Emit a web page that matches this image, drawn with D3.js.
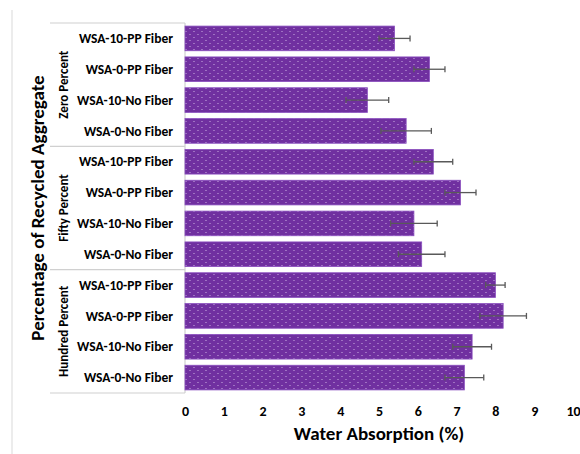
<!DOCTYPE html>
<html>
<head>
<meta charset="utf-8">
<script src="https://cdnjs.cloudflare.com/ajax/libs/d3/7.8.5/d3.min.js"></script>
<style>
  body { margin: 0; background: #fff; font-family: Calibri, "Liberation Sans", "Open Sans", sans-serif; }
</style>
</head>
<body>
<svg id="chart" width="580" height="454"></svg>
<script>
// data, top to bottom
var groups = ["Zero Percent", "Fifty Percent", "Hundred Percent"];
var samples = ["WSA-10-PP Fiber", "WSA-0-PP Fiber", "WSA-10-No Fiber", "WSA-0-No Fiber"];
var values = [5.4, 6.3, 4.7, 5.7, 6.4, 7.1, 5.9, 6.1, 8.0, 8.2, 7.4, 7.2];
var errors = [0.4, 0.4, 0.55, 0.65, 0.5, 0.4, 0.6, 0.6, 0.25, 0.6, 0.5, 0.5];
var xTicks = [0, 1, 2, 3, 4, 5, 6, 7, 8, 9, 10];

var svg = d3.select("#chart");
var plotLeft = 185, plotRight = 573, plotTop = 23, plotBottom = 393;

var rows = [];
groups.forEach(function (g, gi) {
  samples.forEach(function (s, si) {
    var i = gi * samples.length + si;
    rows.push({ key: g + "|" + s, group: g, sample: s, v: values[i], e: errors[i] });
  });
});

var x = d3.scaleLinear().domain([0, 10]).range([plotLeft, plotRight]);
var y = d3.scaleBand().domain(rows.map(function (r) { return r.key; }))
  .range([plotTop, plotBottom]).paddingInner(0.2).paddingOuter(0.1);

// dotted pattern fill
var defs = svg.append("defs");
var pat = defs.append("pattern").attr("id", "dots").attr("patternUnits", "userSpaceOnUse")
  .attr("width", 8).attr("height", 6);
pat.append("rect").attr("width", 8).attr("height", 6).attr("fill", "#7030A0");
pat.append("circle").attr("cx", 2).attr("cy", 1.5).attr("r", 0.6).attr("fill", "#d8c0ea");
pat.append("circle").attr("cx", 6).attr("cy", 4.5).attr("r", 0.6).attr("fill", "#d8c0ea");

// frame line at far left
svg.append("line").attr("x1", 12).attr("x2", 12).attr("y1", 10).attr("y2", 454)
  .attr("stroke", "#d9d9d9");

// category table lines
var groupH = (plotBottom - plotTop) / groups.length;
groups.forEach(function (g, gi) {
  var y0 = plotTop + gi * groupH;
  svg.append("line").attr("x1", 50).attr("x2", plotLeft).attr("y1", y0).attr("y2", y0)
    .attr("stroke", "#d0d0d0").attr("stroke-width", 1.2);
  svg.append("text")
    .attr("transform", "translate(63," + (y0 + groupH / 2) + ") rotate(-90)")
    .attr("text-anchor", "middle").attr("dy", "0.35em")
    .attr("font-size", 13).attr("font-weight", "bold").text(g);
});
svg.append("line").attr("x1", 50).attr("x2", plotLeft).attr("y1", plotBottom).attr("y2", plotBottom)
  .attr("stroke", "#d0d0d0").attr("stroke-width", 1.2);
svg.append("line").attr("x1", plotLeft).attr("x2", plotLeft).attr("y1", plotTop).attr("y2", plotBottom)
  .attr("stroke", "#d0d0d0").attr("stroke-width", 1.2);

// sample labels
svg.selectAll(".lab").data(rows).enter().append("text")
  .attr("x", plotLeft - 12).attr("y", function (d) { return y(d.key) + y.bandwidth() / 2; })
  .attr("dy", "0.35em").attr("text-anchor", "end")
  .attr("font-size", 13.5).attr("font-weight", "bold").text(function (d) { return d.sample; });

// bars
svg.selectAll(".bar").data(rows).enter().append("rect")
  .attr("x", x(0)).attr("y", function (d) { return y(d.key); })
  .attr("width", function (d) { return x(d.v) - x(0); })
  .attr("height", y.bandwidth())
  .attr("fill", "url(#dots)").attr("stroke", "#8a4fbf").attr("stroke-width", 0.8);

// error bars
var eb = svg.selectAll(".eb").data(rows).enter().append("g")
  .attr("stroke", "#595959").attr("stroke-width", 1.3);
eb.append("line")
  .attr("x1", function (d) { return x(d.v - d.e); }).attr("x2", function (d) { return x(d.v + d.e); })
  .attr("y1", function (d) { return y(d.key) + y.bandwidth() / 2; })
  .attr("y2", function (d) { return y(d.key) + y.bandwidth() / 2; });
[-1, 1].forEach(function (s) {
  eb.append("line")
    .attr("x1", function (d) { return x(d.v + s * d.e); }).attr("x2", function (d) { return x(d.v + s * d.e); })
    .attr("y1", function (d) { return y(d.key) + y.bandwidth() / 2 - 3; })
    .attr("y2", function (d) { return y(d.key) + y.bandwidth() / 2 + 3; });
});

// x axis
var xa = svg.append("g").attr("transform", "translate(0," + plotBottom + ")")
  .call(d3.axisBottom(x).tickValues(xTicks).tickSize(0).tickPadding(13));
xa.select(".domain").remove();
xa.selectAll("text").attr("font-size", 14).attr("font-weight", "bold")
  .attr("font-family", "Calibri, 'Liberation Sans', 'Open Sans', sans-serif").attr("fill", "#000");

svg.append("text").attr("x", x(5)).attr("y", 440).attr("text-anchor", "middle")
  .attr("font-size", 19).attr("font-weight", "bold").text("Water Absorption (%)");
svg.append("text").attr("transform", "translate(37," + ((plotTop + plotBottom) / 2) + ") rotate(-90)")
  .attr("text-anchor", "middle").attr("dy", "0.35em")
  .attr("font-size", 19).attr("font-weight", "bold").text("Percentage of Recycled Aggregate");
</script>
</body>
</html>
